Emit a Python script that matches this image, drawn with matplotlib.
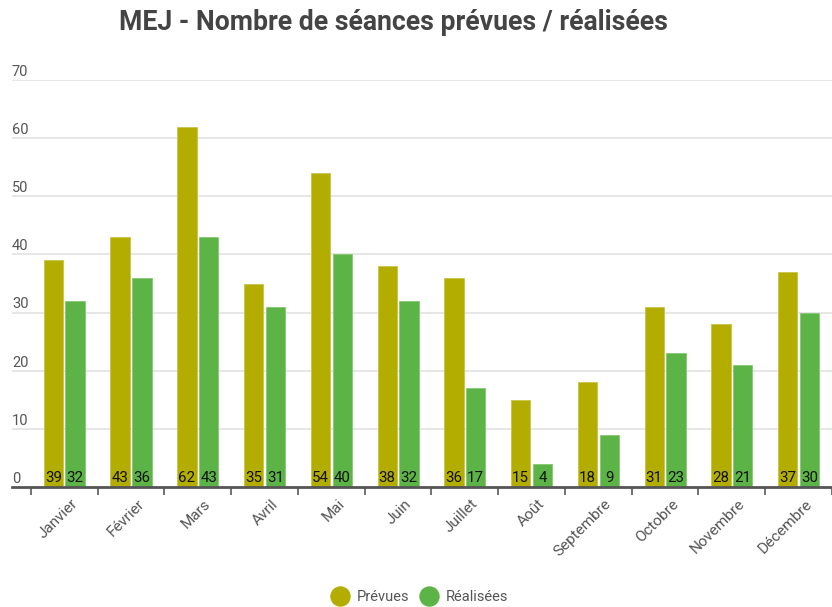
import matplotlib
matplotlib.use("Agg")
import matplotlib.pyplot as plt
import numpy as np
from matplotlib.lines import Line2D
from matplotlib.transforms import offset_copy, ScaledTranslation

plt.rcParams['font.family'] = ['Roboto', 'DejaVu Sans']

months = ["Janvier", "Février", "Mars", "Avril", "Mai", "Juin", "Juillet",
          "Août", "Septembre", "Octobre", "Novembre", "Décembre"]
prevues = [39, 43, 62, 35, 54, 38, 36, 15, 18, 31, 28, 37]
realisees = [32, 36, 43, 31, 40, 32, 17, 4, 9, 23, 21, 30]
yticks = [0, 10, 20, 30, 40, 50, 60, 70]
series_names = ["Prévues", "Réalisées"]
colors = ["#b3ad00", "#5db446"]

W, H = 832, 607
fig = plt.figure(figsize=(W / 100, H / 100), dpi=100)
ax = fig.add_axes([12 / W, 1 - 487 / H, (832 - 12) / W, (487 - 80) / H])

x = np.arange(len(months))
off = 0.163
bw = 0.29
ax.bar(x - off, prevues, width=bw, color=colors[0], zorder=3,
       edgecolor="#c9c44a", linewidth=0.6)
ax.bar(x + off, realisees, width=bw, color=colors[1], zorder=3,
       edgecolor="#86c874", linewidth=0.6)

tr = offset_copy(ax.transData, fig=fig, x=0, y=1.5, units='points')
for xi, p, r in zip(x, prevues, realisees):
    ax.text(xi - off, 0, str(p), ha='center', va='bottom', fontsize=10.8,
            color='#111111', transform=tr, zorder=4)
    ax.text(xi + off, 0, str(r), ha='center', va='bottom', fontsize=10.8,
            color='#111111', transform=tr, zorder=4)

ax.set_xlim(-0.783, 11.437)
ax.set_ylim(0, 70)

for s in ['top', 'right', 'left']:
    ax.spines[s].set_visible(False)
ax.spines['bottom'].set_color('#555555')
ax.spines['bottom'].set_linewidth(2)
ax.spines['bottom'].set_zorder(5)

for v in yticks[1:]:
    ax.axhline(v, color='#e4e4e4', linewidth=1.3, zorder=1)
ax.set_yticks([])

ytr = offset_copy(ax.get_yaxis_transform(), fig=fig, x=0, y=0.8, units='points')
for v in yticks:
    ax.text(0, v, str(v), ha='left', va='bottom', fontsize=10.5, color='#555555',
            transform=ytr)

ax.set_xticks(np.arange(-0.5, 11.6, 1.0), minor=True)
ax.set_xticks(x)
ax.set_xticklabels(months, rotation=45, ha='right', rotation_mode='anchor',
                   fontsize=11, color='#555555')
ax.tick_params(axis='x', which='major', length=0, pad=7)
ax.tick_params(axis='x', which='minor', length=6, width=1.3, color='#666666')
dx = ScaledTranslation(6 / 100, 0, fig.dpi_scale_trans)
for lbl in ax.get_xticklabels():
    lbl.set_transform(lbl.get_transform() + dx)

fig.text(393 / W, 1 - 22 / H, "MEJ - Nombre de séances prévues / réalisées",
         ha='center', va='center', fontsize=19.2, fontweight='bold', color='#444444')

handles = [Line2D([0], [0], marker='o', linestyle='none', markersize=13.7,
                  markerfacecolor=c, markeredgecolor=c) for c in colors]
fig.legend(handles, series_names, loc='center', bbox_to_anchor=(419 / W, 1 - 597 / H),
           ncol=2, frameon=False, fontsize=10.5, labelcolor='#555555',
           handletextpad=0.5, columnspacing=0.7, handlelength=1.3)

fig.savefig("out.png", dpi=100)
